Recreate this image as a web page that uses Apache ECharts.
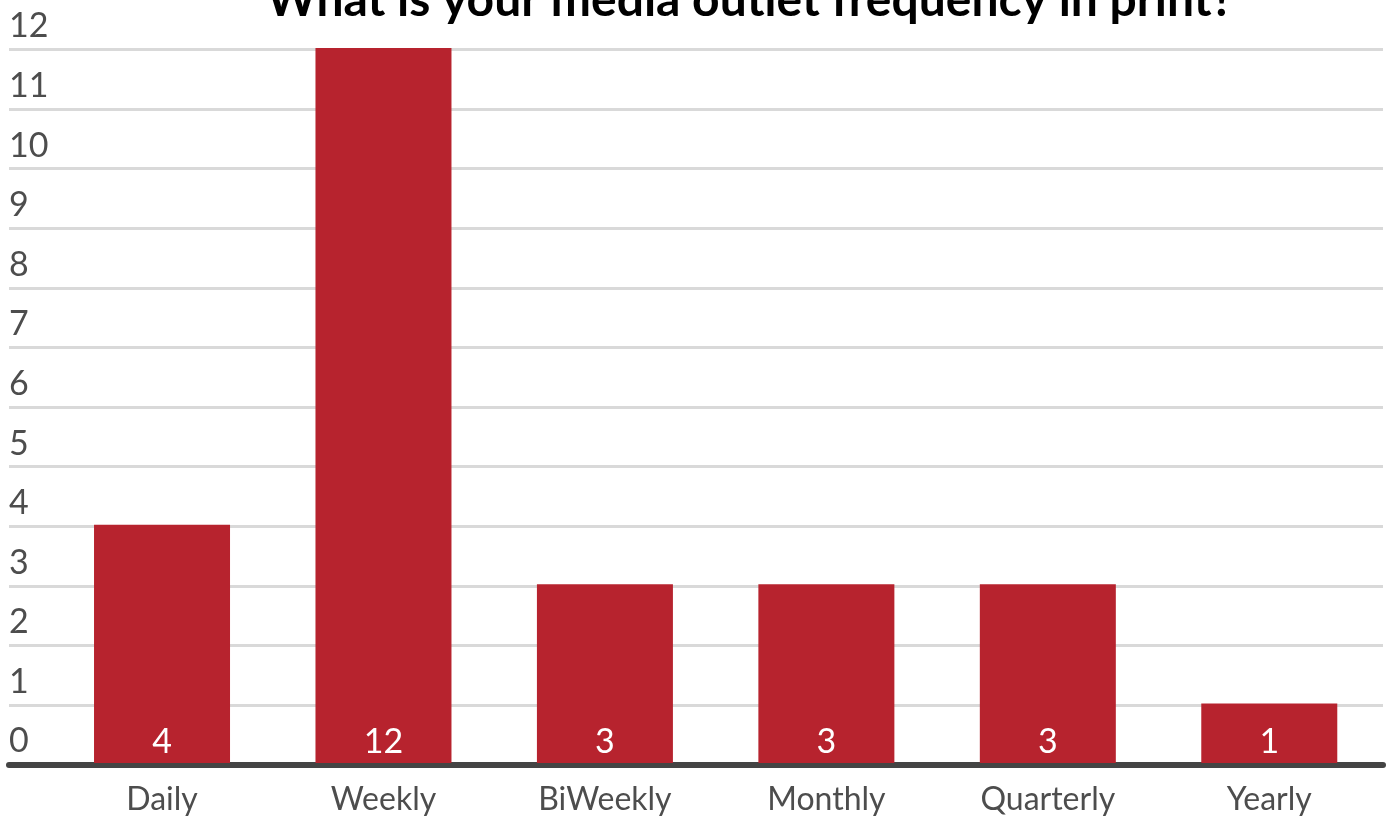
<!DOCTYPE html>
<html>
<head>
<meta charset="utf-8">
<script src="https://cdn.jsdelivr.net/npm/echarts@6/dist/echarts.min.js"></script>
<style>
  html, body { margin: 0; padding: 0; background: #ffffff; }
  #chart { width: 1389px; height: 817px; }
</style>
</head>
<body>
<div id="chart"></div>
<script>
// Survey answers: print frequency of each media outlet
const titleText = 'What is your media outlet frequency in print?';
const categories = ['Daily', 'Weekly', 'BiWeekly', 'Monthly', 'Quarterly', 'Yearly'];
const counts = [4, 12, 3, 3, 3, 1];
const yMin = 0;
const yMax = 12;
const yStep = 1;

const FONT = 'Lato, "Open Sans", sans-serif';
const chart = echarts.init(document.getElementById('chart'));

chart.setOption({
  animation: false,
  backgroundColor: '#ffffff',
  title: {
    text: titleText,
    left: 745,
    top: -28,
    textAlign: 'center',
    textStyle: { fontFamily: FONT, fontSize: 48, fontWeight: 'bold', color: '#000000' }
  },
  grid: [
    // full-width backdrop: gridlines, value labels and baseline
    { left: 9, right: 6, top: 49.5, bottom: 52.5, containLabel: false },
    // bars
    { left: 51.3, right: 9, top: 48, bottom: 54, containLabel: false }
  ],
  xAxis: [
    {
      gridIndex: 0, type: 'value', min: 0, max: 1, offset: 1.5,
      axisLine: { show: true, lineStyle: { color: '#444444', width: 6 } },
      axisTick: { show: false }, axisLabel: { show: false }, splitLine: { show: false }
    },
    {
      gridIndex: 1, type: 'category', data: categories,
      axisLine: { show: false }, axisTick: { show: false },
      axisLabel: { color: '#4d4d4d', fontFamily: FONT, fontSize: 32, margin: 21 }
    }
  ],
  yAxis: [
    {
      gridIndex: 0, type: 'value', min: yMin, max: yMax, interval: yStep,
      axisLine: { show: false }, axisTick: { show: false },
      splitLine: { show: true, lineStyle: { color: '#d9d9d9', width: 3 } },
      axisLabel: {
        inside: true, margin: 0, color: '#4d4d4d', fontFamily: FONT, fontSize: 34,
        align: 'left', verticalAlign: 'bottom', padding: [0, 0, 6, 0]
      }
    },
    {
      gridIndex: 1, type: 'value', min: yMin, max: yMax, interval: yStep, show: false
    }
  ],
  series: [
    {
      type: 'bar', xAxisIndex: 1, yAxisIndex: 1, data: counts, barWidth: 136,
      itemStyle: { color: '#b7232e' },
      label: {
        show: true, position: 'insideBottom', distance: 4, color: '#ffffff',
        fontFamily: FONT, fontSize: 34
      },
      z: 3
    }
  ]
});
</script>
</body>
</html>
